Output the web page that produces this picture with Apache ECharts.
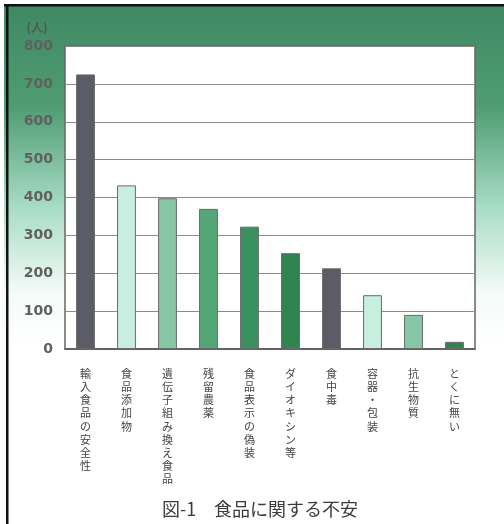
<!DOCTYPE html>
<html><head><meta charset="utf-8">
<script src="https://cdn.jsdelivr.net/npm/echarts@6/dist/echarts.min.js"></script>
<style>html,body{margin:0;padding:0;background:#fff}#c{width:504px;height:524px}</style>
</head><body><div id="c"></div>
<script>
const categories = ['輸入食品の安全性','食品添加物','遺伝子組み換え食品','残留農薬','食品表示の偽装','ダイオキシン等','食中毒','容器・包装','抗生物質','とくに無い'];
const values = [725, 432, 398, 370, 323, 253, 213, 142, 90, 19];
const barColors = ['#5b5c66','#c8eee0','#86c7a5','#55a677','#3a9160','#2f8451','#5b5c66','#c8eee0','#86c7a5','#2f8451'];
const yTicks = [0,100,200,300,400,500,600,700,800];
const unitLabel = '(人)';
const titleText = '図-1　食品に関する不安';

const chart = echarts.init(document.getElementById('c'), null, {renderer:'canvas'});
chart.setOption({
  animation:false,
  backgroundColor:'#fff',
  graphic:[
    {type:'rect', z:-10, shape:{x:4,y:4,width:500,height:340},
     style:{fill:new echarts.graphic.LinearGradient(0,0,0,1,[
       {offset:0,color:'#3f8962'},{offset:0.3,color:'#4f9c72'},{offset:0.6,color:'#a8dcc6'},{offset:0.85,color:'#f4fbf8'},{offset:1,color:'#ffffff'}])}},
    {type:'rect', z:10, shape:{x:4,y:4,width:500,height:2.5}, style:{fill:'#111'}},
    {type:'rect', z:10, shape:{x:6,y:4,width:2.5,height:520}, style:{fill:'#111'}},
    {type:'text', z:10, x:37, y:27, style:{text:unitLabel, fill:'#555', fontSize:12, fontWeight:'bold',
      fontFamily:'Noto Sans CJK JP', align:'center', verticalAlign:'middle'}}
  ],
  title:{text:titleText, left:255, textAlign:'center', top:495,
    textStyle:{fontSize:18, fontWeight:'normal', color:'#3a3a3a', fontFamily:'Noto Sans CJK JP'}},
  grid:{left:65, right:29, top:46, bottom:175, show:true, backgroundColor:'#fff', borderColor:'#666', borderWidth:1.5},
  xAxis:{type:'category', data:categories,
    axisLine:{show:true, lineStyle:{color:'#555', width:1.5}},
    axisTick:{show:false},
    axisLabel:{interval:0, margin:18, color:'#444', fontSize:11, lineHeight:13.2,
      fontFamily:'Noto Sans CJK JP', verticalAlign:'top',
      formatter:v => v.split('').join('\n')}},
  yAxis:{type:'value', min:0, max:800, interval:100,
    axisLine:{show:false}, axisTick:{show:false},
    axisLabel:{margin:12, color:'#606060', fontSize:14, fontWeight:'bold', fontFamily:'DejaVu Sans',
      formatter:v => yTicks.includes(v) ? String(v) : ''},
    splitLine:{lineStyle:{color:'#8a8a8a', width:1.2}}},
  series:[{type:'bar', data:values.map((v,i)=>({value:v, itemStyle:{color:barColors[i]}})),
    barWidth:'46%', itemStyle:{borderColor:'#6a6a6a', borderWidth:1}}]
});
</script></body></html>
